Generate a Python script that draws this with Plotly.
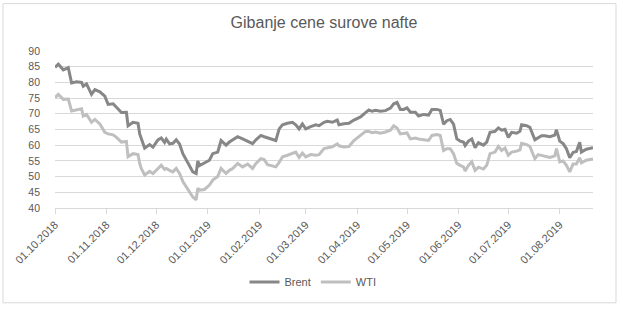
import plotly.graph_objects as go

dates = [
    "2018-10-01", "2018-10-03", "2018-10-06", "2018-10-09", "2018-10-11", "2018-10-14",
    "2018-10-17", "2018-10-18", "2018-10-20", "2018-10-23", "2018-10-25", "2018-10-28",
    "2018-10-31", "2018-11-02", "2018-11-05", "2018-11-07", "2018-11-10", "2018-11-13",
    "2018-11-14", "2018-11-17", "2018-11-20", "2018-11-21", "2018-11-22", "2018-11-24",
    "2018-11-27", "2018-11-29", "2018-12-02", "2018-12-04", "2018-12-06", "2018-12-07",
    "2018-12-09", "2018-12-11", "2018-12-13", "2018-12-15", "2018-12-17", "2018-12-19",
    "2018-12-21", "2018-12-23", "2018-12-25", "2018-12-26", "2018-12-27", "2018-12-30",
    "2019-01-02", "2019-01-04", "2019-01-07", "2019-01-09", "2019-01-12", "2019-01-14",
    "2019-01-16", "2019-01-19", "2019-01-22", "2019-01-25", "2019-01-28", "2019-01-30",
    "2019-02-02", "2019-02-04", "2019-02-06", "2019-02-09", "2019-02-11", "2019-02-13",
    "2019-02-15", "2019-02-18", "2019-02-21", "2019-02-23", "2019-02-25", "2019-02-27",
    "2019-03-01", "2019-03-04", "2019-03-07", "2019-03-09", "2019-03-12", "2019-03-14",
    "2019-03-17", "2019-03-20", "2019-03-21", "2019-03-24", "2019-03-27", "2019-03-30",
    "2019-04-03", "2019-04-06", "2019-04-08", "2019-04-10", "2019-04-12", "2019-04-15",
    "2019-04-18", "2019-04-21", "2019-04-23", "2019-04-25", "2019-04-27", "2019-04-29",
    "2019-05-01", "2019-05-03", "2019-05-06", "2019-05-08", "2019-05-11", "2019-05-14",
    "2019-05-16", "2019-05-19", "2019-05-21", "2019-05-23", "2019-05-25", "2019-05-27",
    "2019-05-29", "2019-05-31", "2019-06-02", "2019-06-04", "2019-06-05", "2019-06-07",
    "2019-06-09", "2019-06-11", "2019-06-13", "2019-06-16", "2019-06-18", "2019-06-20",
    "2019-06-23", "2019-06-25", "2019-06-27", "2019-06-29", "2019-07-01", "2019-07-03",
    "2019-07-06", "2019-07-08", "2019-07-09", "2019-07-12", "2019-07-14", "2019-07-17",
    "2019-07-19", "2019-07-21", "2019-07-23", "2019-07-26", "2019-07-29", "2019-07-30",
    "2019-08-01", "2019-08-03", "2019-08-05", "2019-08-07", "2019-08-09", "2019-08-11",
    "2019-08-13", "2019-08-14", "2019-08-17", "2019-08-21",
]

brent = [
    84.8, 85.8, 84.0, 84.7, 79.8, 80.2,
    80.0, 78.8, 79.5, 76.2, 77.7, 77.0,
    75.6, 73.0, 73.2, 72.0, 70.4, 70.5,
    66.2, 67.3, 67.0, 63.6, 62.0, 59.1,
    60.2, 59.4, 61.7, 62.3, 60.9, 61.9,
    60.4, 60.6, 61.7, 60.4, 57.3, 55.2,
    53.4, 51.5, 51.0, 55.0, 53.5, 54.3,
    55.2, 57.3, 57.8, 61.5, 60.0, 61.0,
    61.7, 62.7, 62.0, 61.3, 60.5, 61.7,
    63.1, 62.7, 62.3, 61.8, 61.5, 65.2,
    66.5, 67.0, 67.3, 66.5, 65.2, 66.8,
    65.2, 65.9, 66.5, 66.2, 67.3, 67.6,
    67.3, 68.0, 66.5, 66.8, 67.0, 68.0,
    69.0, 70.4, 71.2, 70.8, 71.1, 70.8,
    71.0, 71.8, 73.2, 73.6, 71.4, 71.4,
    71.9, 70.5, 70.5, 69.3, 69.8, 69.6,
    71.4, 71.4, 71.1, 66.7, 67.8, 68.2,
    66.7, 62.0, 61.3, 61.0, 59.9, 61.3,
    62.0, 59.2, 60.8, 60.0, 61.0, 64.1,
    64.4, 65.5, 64.8, 65.1, 62.5, 64.1,
    63.8, 64.4, 66.5, 66.2, 65.7, 61.7,
    62.3, 63.0, 63.0, 62.7, 63.2, 64.9,
    61.3, 60.5, 58.9, 56.0, 57.7, 58.0,
    60.9, 57.8, 58.7, 59.2,
]

wti = [
    75.1, 76.2, 74.6, 74.7, 70.9, 71.3,
    71.6, 69.3, 69.8, 67.3, 68.2, 66.8,
    64.1, 63.6, 63.3, 62.5, 61.0, 61.2,
    56.3, 57.3, 57.0, 54.2, 52.5, 50.5,
    51.7, 51.0, 52.6, 53.6, 52.3, 52.6,
    52.0, 51.5, 52.6, 51.0, 48.4, 46.8,
    45.3, 43.5, 42.6, 46.3, 45.7, 45.9,
    47.3, 48.9, 50.0, 52.6, 51.0, 52.0,
    52.6, 54.2, 53.1, 54.0, 52.6, 54.2,
    55.7, 55.4, 53.8, 53.3, 53.1, 54.5,
    56.3, 56.8, 57.3, 57.8, 56.1, 57.5,
    56.3, 57.0, 56.8, 57.0, 58.9, 59.2,
    59.5, 60.4, 59.8, 59.4, 59.6, 61.5,
    63.1, 64.4, 64.4, 64.0, 64.2, 63.8,
    64.2, 64.8, 66.2, 65.5, 63.6, 63.8,
    63.9, 62.0, 62.3, 62.0, 61.7, 61.5,
    63.1, 63.4, 63.1, 58.3, 58.9, 58.9,
    57.3, 54.2, 53.6, 53.1, 51.8, 53.6,
    54.7, 52.0, 53.0, 52.4, 53.6, 57.3,
    57.8, 59.6, 58.3, 59.1, 56.8, 57.8,
    58.1, 58.5, 60.6, 60.2, 59.6, 55.7,
    57.0, 56.8, 56.5, 56.1, 56.6, 58.9,
    54.7, 55.0, 53.6, 51.5, 54.0, 54.0,
    56.0, 54.4, 55.2, 55.6,
]

month_ticks = [
    "2018-10-01", "2018-11-01", "2018-12-01", "2019-01-01", "2019-02-01", "2019-03-01",
    "2019-04-01", "2019-05-01", "2019-06-01", "2019-07-01", "2019-08-01",
]
month_labels = [
    "01.10.2018", "01.11.2018", "01.12.2018", "01.01.2019", "01.02.2019", "01.03.2019",
    "01.04.2019", "01.05.2019", "01.06.2019", "01.07.2019", "01.08.2019",
]

FONT = "Liberation Sans"
TXT = "#595959"

fig = go.Figure()
fig.add_trace(go.Scatter(x=dates, y=brent, name="Brent", mode="lines",
                         line=dict(color="#878787", width=3)))
fig.add_trace(go.Scatter(x=dates, y=wti, name="WTI", mode="lines",
                         line=dict(color="#bfbfbf", width=3)))

fig.update_layout(
    width=620, height=309,
    margin=dict(l=55, r=27, t=51, b=99),
    paper_bgcolor="white", plot_bgcolor="white",
    font=dict(family=FONT, size=10.5, color=TXT),
    title=dict(text="Gibanje cene surove nafte", x=0.5, xref="paper", xanchor="center",
               y=1 - 22 / 309, yref="container", yanchor="middle",
               font=dict(family=FONT, size=16, color=TXT)),
    showlegend=True,
    legend=dict(orientation="h", x=(313 - 55) / 538, xanchor="center",
                y=(210 - 285) / 159, yanchor="middle",
                font=dict(family=FONT, size=11, color=TXT),
                itemwidth=30, bgcolor="rgba(0,0,0,0)"),
    xaxis=dict(
        type="date", range=["2018-10-01", "2019-08-21"],
        tickvals=month_ticks, ticktext=month_labels, tickangle=-45,
        showgrid=False, showline=True, linecolor="#d9d9d9", linewidth=1,
        ticks="outside", ticklen=5, tickcolor="#d9d9d9",
        tickfont=dict(family=FONT, size=11, color=TXT),
        zeroline=False, fixedrange=True,
    ),
    yaxis=dict(
        range=[40, 90], dtick=5, tick0=40,
        showgrid=True, gridcolor="#d9d9d9", gridwidth=1,
        showline=False, zeroline=False, ticks="",
        ticklabelstandoff=14,
        tickfont=dict(family=FONT, size=10.5, color=TXT),
        fixedrange=True,
    ),
    shapes=[dict(type="rect", xref="paper", yref="paper",
                 x0=(3 - 55) / 538, x1=(616 - 55) / 538,
                 y0=(210 - 306) / 159, y1=(210 - 3) / 159,
                 line=dict(color="#d9d9d9", width=1), fillcolor="rgba(0,0,0,0)",
                 layer="below")],
)

fig.write_html("out.html")
